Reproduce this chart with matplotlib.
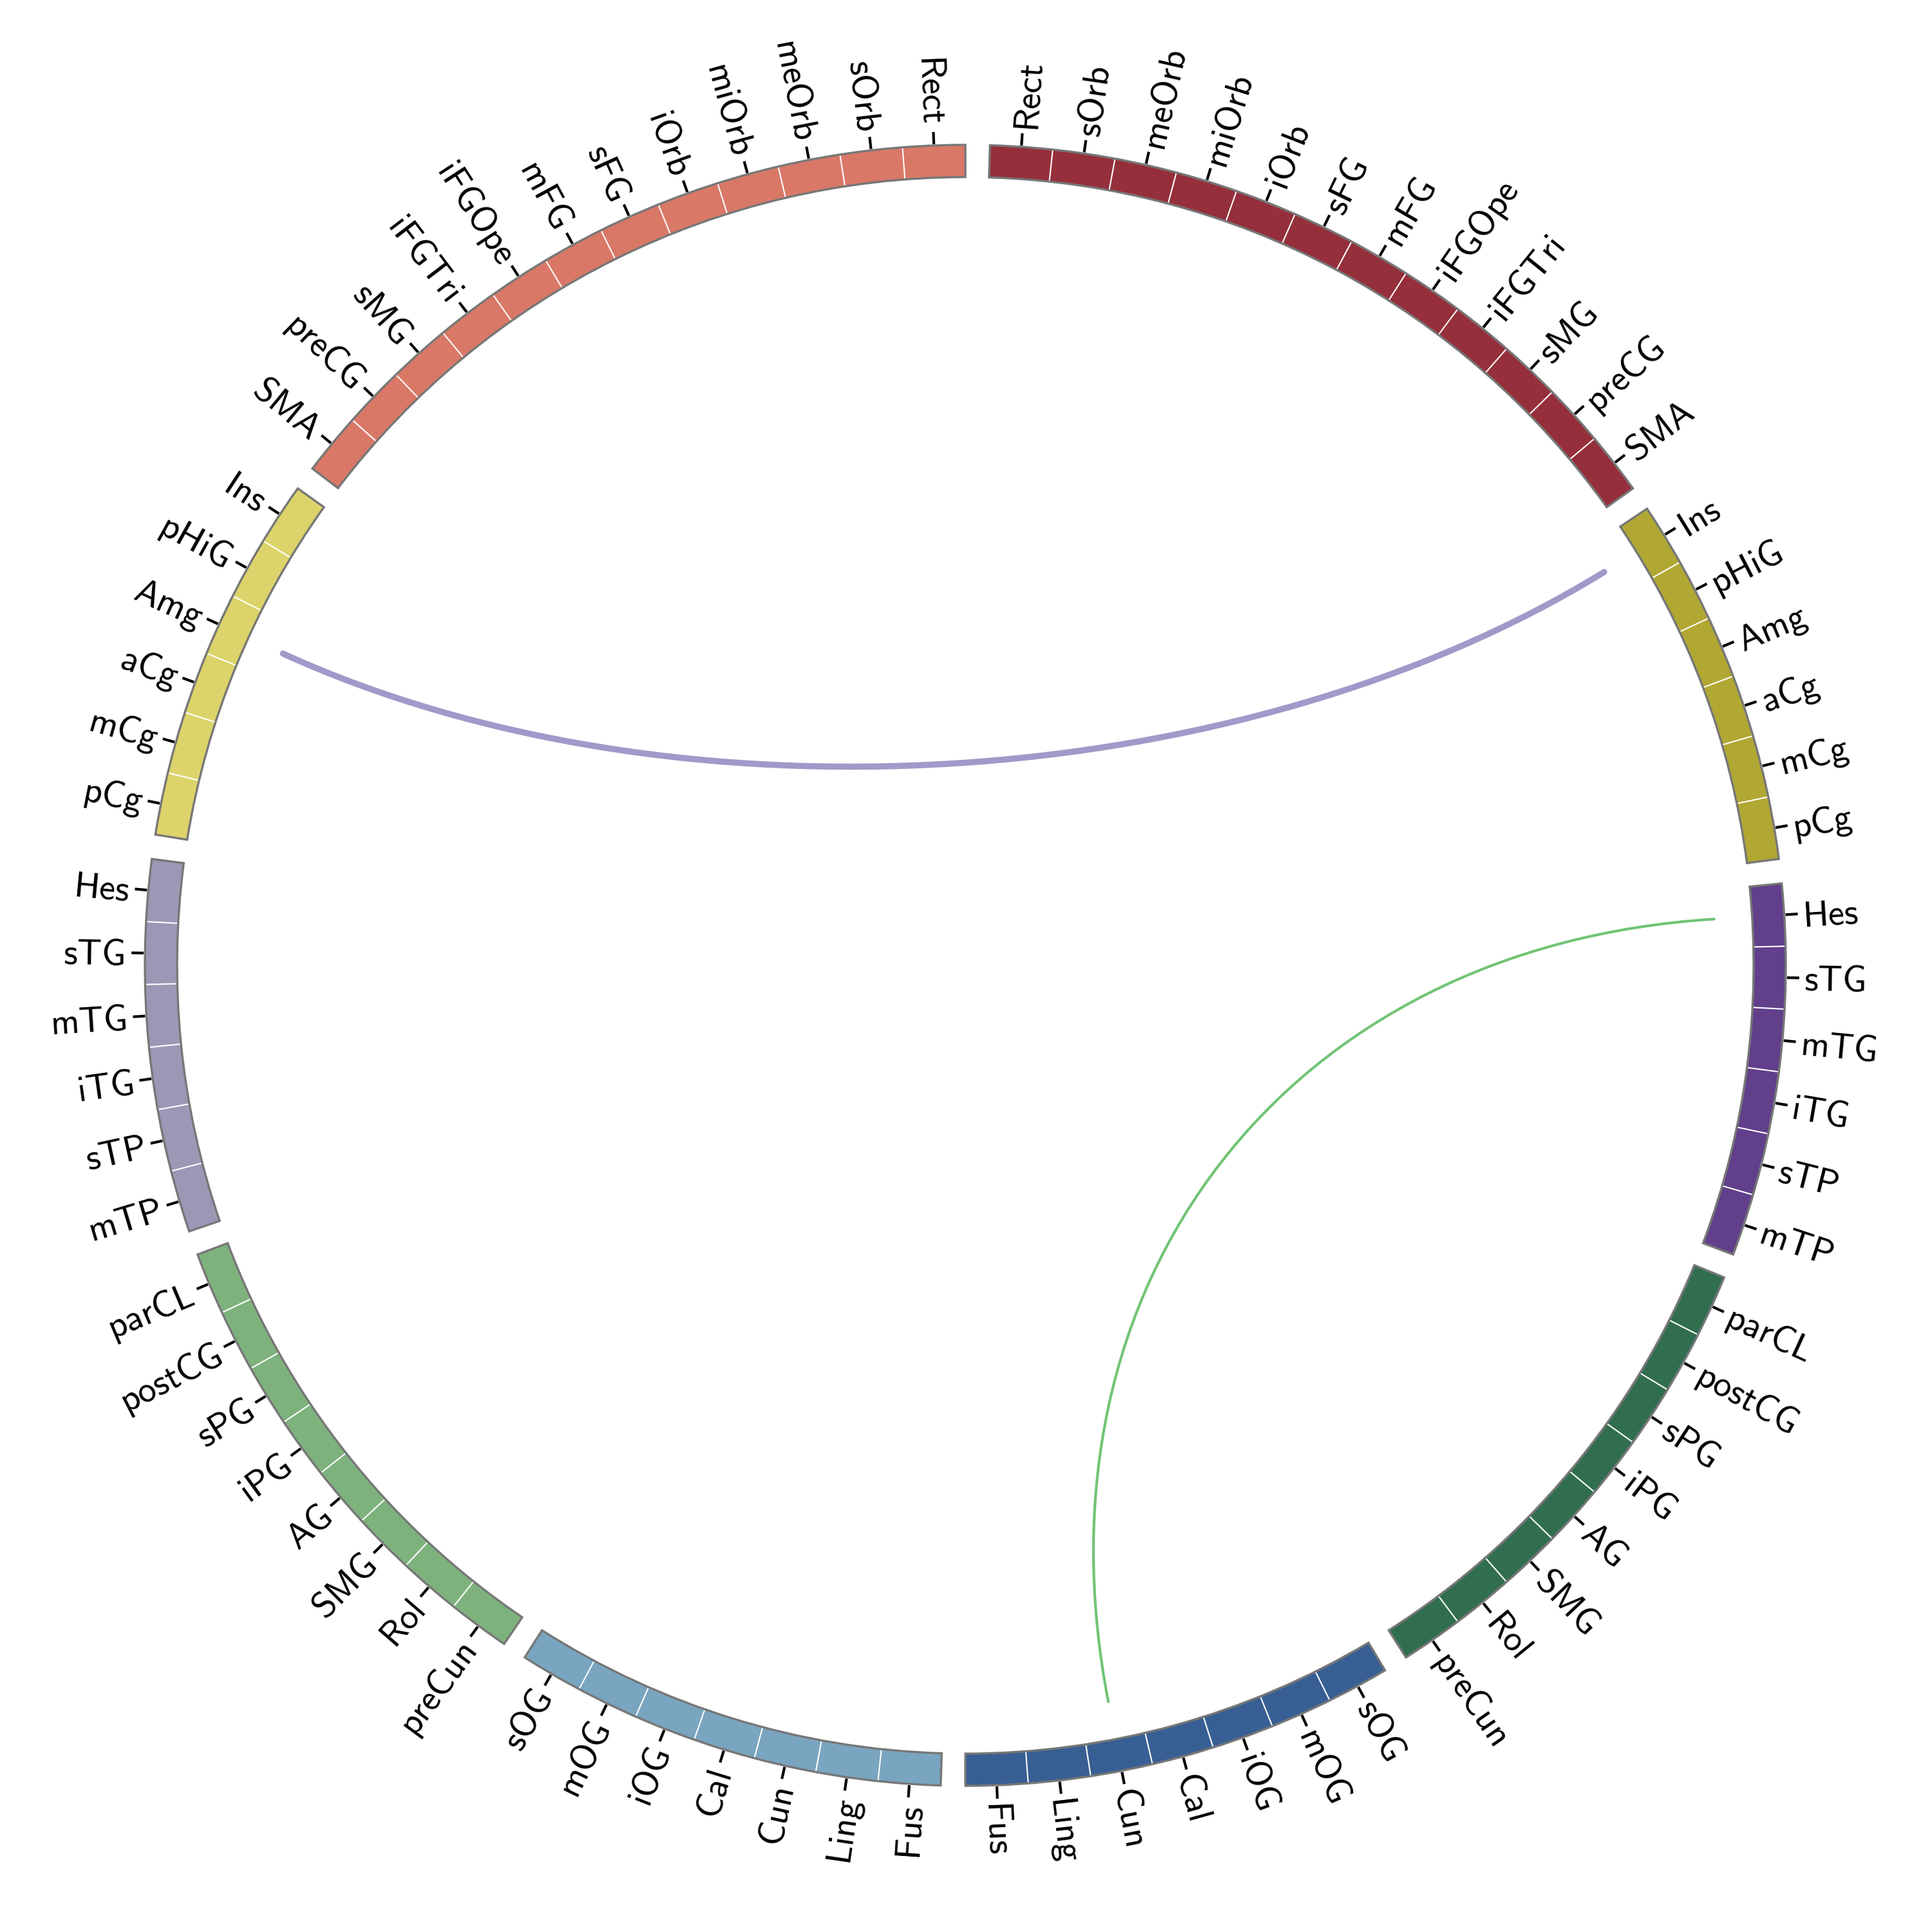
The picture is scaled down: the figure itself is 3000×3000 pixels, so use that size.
import numpy as np
import matplotlib
matplotlib.use("Agg")
import matplotlib.pyplot as plt
from matplotlib.patches import Wedge, PathPatch
from matplotlib.path import Path

# ---------------- data ----------------
frontal = ["Rect", "sOrb", "meOrb", "miOrb", "iOrb", "sFG", "mFG", "iFGOpe",
           "iFGTri", "sMG", "preCG", "SMA"]
limbic = ["Ins", "pHiG", "Amg", "aCg", "mCg", "pCg"]
temporal = ["Hes", "sTG", "mTG", "iTG", "sTP", "mTP"]
parietal = ["parCL", "postCG", "sPG", "iPG", "AG", "SMG", "Rol", "preCun"]
occipital = ["sOG", "mOG", "iOG", "Cal", "Cun", "Ling", "Fus"]

lobes = [frontal, limbic, temporal, parietal, occipital]
right_colors = ["#952f3b", "#b1a733", "#613f8a", "#316e50", "#385f93"]
left_colors = ["#d97866", "#dcd46a", "#9b98b6", "#7eb27d", "#79a5c0"]

# connections (hemisphere, region) -> (hemisphere, region)
conn_src = [("L", "Amg"), ("R", "Hes")]
conn_dst = [("R", "Ins"), ("R", "Cun")]
conn_width = [2.3, 1.0]
conn_color = ["#9f9ac9", "#72c475"]

# ---------------- layout ----------------
GAP = 1.72
N = 2 * sum(len(l) for l in lobes)
W = (360 - 10 * GAP) / N
R_IN, R_OUT = 1224, 1274
R_CHORD = 1165
K_CTRL = 0.43

groups = []  # (hemi, names, color)
for names, c in zip(lobes, right_colors):
    groups.append(("R", names, c))
for names, c in zip(lobes[::-1], left_colors[::-1]):
    groups.append(("L", names[::-1], c))

fig = plt.figure(figsize=(10, 10), dpi=300)
ax = fig.add_axes([0, 0, 1, 1])
ax.set_xlim(-1499, 1501)
ax.set_ylim(-1501, 1499)
ax.set_aspect("equal")
ax.axis("off")

node_angle = {}
p = 0.0
for hemi, names, color in groups:
    p += GAP
    p_start = p
    for name in names:
        t1 = 90 - (p + W)
        t2 = 90 - p
        ax.add_patch(Wedge((0, 0), R_OUT, t1, t2, width=R_OUT - R_IN,
                           facecolor=color, edgecolor="none", zorder=2))
        mid = np.deg2rad(90 - (p + W / 2))
        node_angle[(hemi, name)] = mid
        # tick
        ax.plot([1276 * np.cos(mid), 1295 * np.cos(mid)],
                [1276 * np.sin(mid), 1295 * np.sin(mid)],
                color="black", lw=1.0, solid_capstyle="butt", zorder=3)
        deg = np.rad2deg(mid)
        lx, ly = 1303 * np.cos(mid), 1303 * np.sin(mid)
        if np.cos(mid) >= 0:
            rot, ha = deg, "left"
        else:
            rot, ha = deg - 180, "right"
        ax.text(lx, ly, name, rotation=rot, ha=ha, va="center_baseline",
                rotation_mode="anchor", fontsize=13.5, family="cmss10",
                color="black", zorder=4)
        p += W
    # separators
    for i in range(1, len(names)):
        a = np.deg2rad(90 - (p_start + i * W))
        ax.plot([R_IN * np.cos(a), R_OUT * np.cos(a)],
                [R_IN * np.sin(a), R_OUT * np.sin(a)],
                color="white", lw=0.5, zorder=3)
    ax.add_patch(Wedge((0, 0), R_OUT, 90 - p, 90 - p_start, width=R_OUT - R_IN,
                       facecolor="none", edgecolor="#777777", lw=0.8, zorder=3))

# chords
for s, d, lw, c in zip(conn_src, conn_dst, conn_width, conn_color):
    a0, a1 = node_angle[s], node_angle[d]
    P0 = np.array([R_CHORD * np.cos(a0), R_CHORD * np.sin(a0)])
    P3 = np.array([R_CHORD * np.cos(a1), R_CHORD * np.sin(a1)])
    verts = [P0, K_CTRL * P0, K_CTRL * P3, P3]
    path = Path(verts, [Path.MOVETO, Path.CURVE4, Path.CURVE4, Path.CURVE4])
    ax.add_patch(PathPatch(path, facecolor="none", edgecolor=c, lw=lw,
                           capstyle="round", zorder=1))

fig.savefig("out.png", dpi=300, facecolor="white")
